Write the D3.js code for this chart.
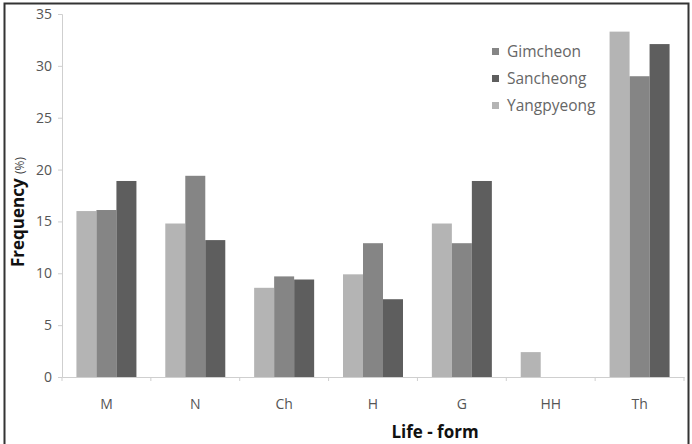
<!DOCTYPE html>
<html>
<head>
<meta charset="utf-8">
<script src="https://cdn.jsdelivr.net/npm/d3@7"></script>
<style>
    body { margin: 0; background: #fff; }
    text { font-family: "Open Sans", "Noto Sans", sans-serif; }
</style>
</head>
<body>
<div id="chart"></div>
<script>
// life-form categories
const categories = ["M", "N", "Ch", "H", "G", "HH", "Th"];

// series, in bar order (left to right inside a group)
const seriesNames = ["Yangpyeong", "Gimcheon", "Sancheong"];
const yangpyeong = [16.0, 14.8, 8.6, 9.9, 14.8, 2.4, 33.3];
const gimcheon = [16.1, 19.4, 9.7, 12.9, 12.9, 0, 29.0];
const sancheong = [18.9, 13.2, 9.4, 7.5, 18.9, 0, 32.1];

// legend order as shown in the picture
const legendNames = ["Gimcheon", "Sancheong", "Yangpyeong"];
const yTicks = [0, 5, 10, 15, 20, 25, 30, 35];

const colors = {Yangpyeong: "#b4b4b4", Gimcheon: "#858585", Sancheong: "#5e5e5e"};
const values = {Yangpyeong: yangpyeong, Gimcheon: gimcheon, Sancheong: sancheong};

const W = 692, H = 444;
const margin = {top: 14, right: 8, bottom: 67, left: 62};
const width = W - margin.left - margin.right;
const height = H - margin.top - margin.bottom;

const svg = d3.select("#chart").append("svg")
    .attr("width", W)
    .attr("height", H);

// outer frame
svg.append("rect")
    .attr("x", 4.5).attr("y", 3.5)
    .attr("width", 684).attr("height", 450)
    .attr("fill", "none")
    .attr("stroke", "#333")
    .attr("stroke-width", 2);

const g = svg.append("g").attr("transform", "translate(" + margin.left + "," + margin.top + ")");

const x = d3.scaleBand().domain(categories).range([0, width]);
const y = d3.scaleLinear().domain([0, 35]).range([height, 0]);
const barW = 20;
const xs = d3.scaleBand().domain(seriesNames).range([0, barW * 3]);

// y axis
const yAxis = g.append("g")
    .call(d3.axisLeft(y).tickValues(yTicks).tickSize(4).tickPadding(6));
yAxis.select(".domain").attr("stroke", "#cfcfcf");
yAxis.selectAll(".tick line").attr("stroke", "#cfcfcf");
yAxis.selectAll("text").attr("fill", "#555").attr("font-size", 14);

// x axis, ticks between categories
const xAxis = g.append("g")
    .attr("transform", "translate(0," + height + ")")
    .call(d3.axisBottom(x).tickSize(0).tickPadding(22));
xAxis.select(".domain").attr("stroke", "#cfcfcf");
xAxis.selectAll("text").attr("fill", "#555").attr("font-size", 14);
g.append("g").selectAll("line")
    .data(d3.range(categories.length + 1))
    .join("line")
    .attr("x1", i => i * x.bandwidth()).attr("x2", i => i * x.bandwidth())
    .attr("y1", height).attr("y2", height + 4)
    .attr("stroke", "#cfcfcf");

// bars
const groups = g.append("g").selectAll("g")
    .data(categories)
    .join("g")
    .attr("transform", d => "translate(" + (x(d) + (x.bandwidth() - barW * 3) / 2) + ",0)");

groups.selectAll("rect")
    .data((c, i) => seriesNames.map(s => ({s: s, v: values[s][i]})))
    .join("rect")
    .attr("x", d => xs(d.s))
    .attr("y", d => y(d.v))
    .attr("width", xs.bandwidth())
    .attr("height", d => height - y(d.v))
    .attr("fill", d => colors[d.s]);

// legend
const legend = svg.append("g").attr("transform", "translate(492,52)");
legendNames.forEach((name, i) => {
    legend.append("rect")
        .attr("x", 0).attr("y", i * 27 - 4)
        .attr("width", 7).attr("height", 7)
        .attr("fill", colors[name]);
    legend.append("text")
        .attr("x", 15).attr("y", i * 27)
        .attr("dy", "0.35em")
        .attr("font-size", 15.5)
        .attr("fill", "#666")
        .text(name);
});

// axis titles
const yTitle = svg.append("text")
    .attr("transform", "translate(24," + 212 + ") rotate(-90)")
    .attr("text-anchor", "middle")
    .attr("fill", "#111");
yTitle.append("tspan").attr("font-size", 17).attr("font-weight", "bold").text("Frequency ");
yTitle.append("tspan").attr("font-size", 12).attr("fill", "#444").text("(%)");

svg.append("text")
    .attr("x", 435).attr("y", 438)
    .attr("text-anchor", "middle")
    .attr("font-size", 17)
    .attr("font-weight", "bold")
    .attr("fill", "#111")
    .text("Life - form");
</script>
</body>
</html>
